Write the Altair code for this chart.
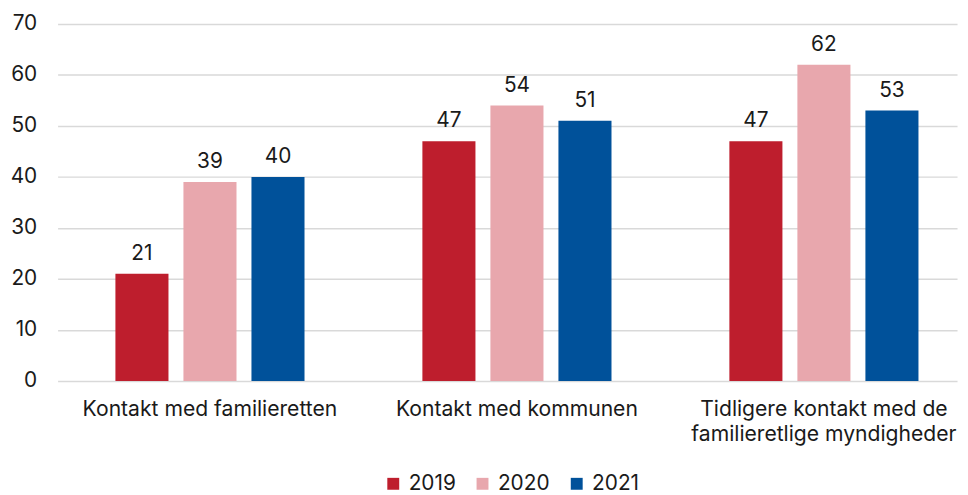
import altair as alt
import pandas as pd

categories = ["Kontakt med familieretten", "Kontakt med kommunen",
              "Tidligere kontakt med de familieretlige myndigheder"]
years = ["2019", "2020", "2021"]
v2019 = [21, 47, 47]
v2020 = [39, 54, 62]
v2021 = [40, 51, 53]
colors = ["#BE1E2D", "#E8A7AD", "#00519A"]

rows = []
for i, c in enumerate(categories):
    for y, vals in zip(years, [v2019, v2020, v2021]):
        rows.append({"cat": c, "year": y, "value": vals[i]})
df = pd.DataFrame(rows)

FONT = "Inter"
FS = 21
label_expr = ("datum.value == 'Tidligere kontakt med de familieretlige myndigheder' ? "
              "['Tidligere kontakt med de', 'familieretlige myndigheder'] : datum.value")

x = alt.X("cat:N", sort=categories, title=None,
          scale=alt.Scale(paddingInner=0.384, paddingOuter=0.157, align=0.6),
          axis=alt.Axis(labelAngle=0, labelExpr=label_expr, labelFontSize=21.3,
                        labelFont=FONT, labelColor="#1a1a1a", ticks=False,
                        domain=False, labelPadding=18, labelLineHeight=25,
                        labelLimit=400))
xo = alt.XOffset("year:N", sort=years,
                 scale=alt.Scale(paddingInner=0.22, paddingOuter=0))

base = alt.Chart(df).encode(x=x, xOffset=xo)

bars = base.mark_bar().encode(
    y=alt.Y("value:Q", title=None,
            scale=alt.Scale(domain=[0, 70]),
            axis=alt.Axis(values=list(range(0, 71, 10)), labelFontSize=FS,
                          labelFont=FONT, labelColor="#1a1a1a", ticks=False,
                          domain=False, labelPadding=21, gridColor="#D9D9D9",
                          gridWidth=1.5)),
    color=alt.Color("year:N", sort=years,
                    scale=alt.Scale(domain=years, range=colors),
                    legend=alt.Legend(title=None, orient="none", direction="horizontal",
                                      legendX=328, legendY=453, symbolType="square",
                                      symbolSize=144, symbolStrokeWidth=0,
                                      labelFontSize=FS, labelFont=FONT,
                                      labelColor="#1a1a1a", labelOffset=5,
                                      columnPadding=16, symbolOpacity=1)),
)

text = base.mark_text(baseline="bottom", dy=-10, fontSize=FS, font=FONT,
                      color="#1a1a1a").encode(
    y=alt.Y("value:Q"),
    text=alt.Text("value:Q"),
)

chart = (bars + text).properties(
    width=907, height=360,
    autosize=alt.AutoSizeParams(type="none"),
    padding={"left": 50, "top": 14, "right": 3, "bottom": 113},
).configure_view(stroke=None)

chart.save("out.html", embed_options={"renderer": "svg", "actions": False})
